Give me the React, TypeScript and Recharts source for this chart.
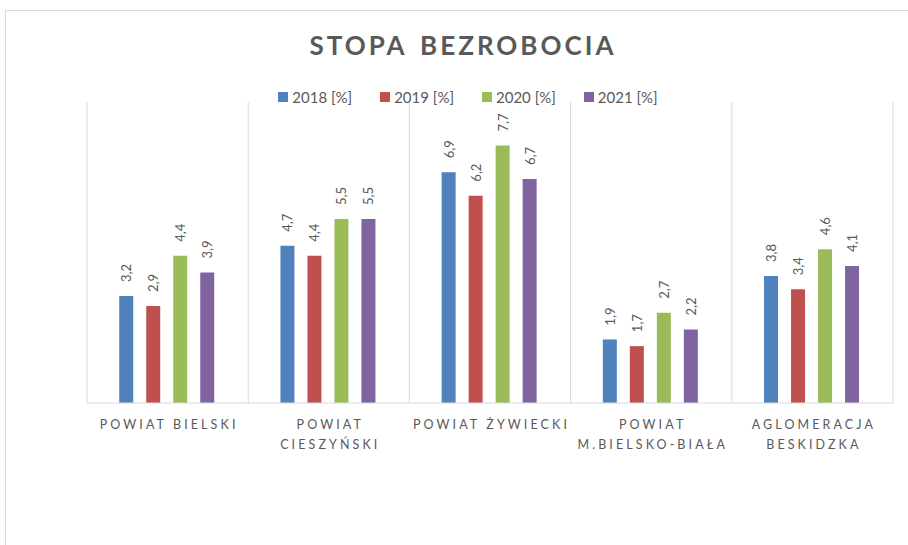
import { Bar, BarChart, CartesianGrid, LabelList, Legend, XAxis, YAxis } from "recharts";

const categories = [
  "POWIAT BIELSKI",
  "POWIAT\nCIESZYŃSKI",
  "POWIAT ŻYWIECKI",
  "POWIAT\nM.BIELSKO-BIAŁA",
  "AGLOMERACJA\nBESKIDZKA",
];
const years = ["2018 [%]", "2019 [%]", "2020 [%]", "2021 [%]"];
const values2018 = [3.2, 4.7, 6.9, 1.9, 3.8];
const values2019 = [2.9, 4.4, 6.2, 1.7, 3.4];
const values2020 = [4.4, 5.5, 7.7, 2.7, 4.6];
const values2021 = [3.9, 5.5, 6.7, 2.2, 4.1];

const COLORS = ["#4f81bd", "#c0504d", "#9bbb59", "#8064a2"];
const TEXT = "#595959";
const GRID = "#d9d9d9";
const FONT = "Lato, 'Open Sans', sans-serif";

const data = categories.map((name, i) => ({
  name,
  y2018: values2018[i],
  y2019: values2019[i],
  y2020: values2020[i],
  y2021: values2021[i],
}));
const keys = ["y2018", "y2019", "y2020", "y2021"];

function CategoryTick({ x, y, payload }: any) {
  const lines = String(payload.value).split("\n");
  return (
    <text
      x={x}
      y={y}
      textAnchor="middle"
      fill={TEXT}
      fontSize={12.5}
      fontFamily={FONT}
      style={{ letterSpacing: "3.1px" }}
    >
      {lines.map((line, i) => (
        <tspan key={i} x={x + 1.5} dy={i === 0 ? 18 : 20}>
          {line}
        </tspan>
      ))}
    </text>
  );
}

function ValueLabel({ x, y, width, value }: any) {
  const cx = x + width / 2;
  const ty = y - 14;
  return (
    <text
      x={cx}
      y={ty}
      transform={`rotate(-90 ${cx} ${ty})`}
      textAnchor="start"
      dominantBaseline="central"
      fill={TEXT}
      fontSize={13}
      fontFamily={FONT}
    >
      {String(value).replace(".", ",")}
    </text>
  );
}

function LegendContent() {
  return (
    <div style={{ display: "flex", justifyContent: "center", gap: 28, fontFamily: FONT, fontSize: 15, color: TEXT }}>
      {years.map((label, i) => (
        <div key={label} style={{ display: "flex", alignItems: "center", gap: 4 }}>
          <span style={{ width: 10, height: 10, background: COLORS[i], display: "inline-block" }} />
          <span>{label}</span>
        </div>
      ))}
    </div>
  );
}

export default function App() {
  return (
    <div style={{ position: "absolute", left: 0, top: 0, width: 908, height: 545, overflow: "hidden", background: "#fff" }}>
      <div
        style={{
          position: "absolute",
          left: 5,
          top: 10,
          width: 1200,
          height: 1200,
          border: `1px solid ${GRID}`,
        }}
      />
      <div
        style={{
          position: "absolute",
          left: 5,
          top: 29,
          width: 916,
          textAlign: "center",
          fontFamily: FONT,
          fontWeight: 700,
          fontSize: 26,
          letterSpacing: "3px",
          wordSpacing: "4px",
          color: TEXT,
        }}
      >
        STOPA BEZROBOCIA
      </div>
      <div style={{ position: "absolute", left: 0, top: 0 }}>
        <BarChart
          width={908}
          height={545}
          data={data}
          margin={{ top: 102, right: 15, bottom: 82, left: 87 }}
          barCategoryGap="20%"
          barGap={13}
        >
          <CartesianGrid
            horizontal={false}
            stroke={GRID}
            verticalCoordinatesGenerator={({ offset }: any) =>
              categories.map((_, i) => offset.left + (i * offset.width) / categories.length).concat(offset.left + offset.width)
            }
          />
          <XAxis
            dataKey="name"
            interval={0}
            height={60}
            tickLine={false}
            axisLine={{ stroke: GRID }}
            tick={<CategoryTick />}
          />
          <YAxis hide domain={[0, 9]} />
          <Legend
            verticalAlign="middle"
            align="center"
            content={<LegendContent />}
            wrapperStyle={{ top: 88, left: 0, width: 936 }}
          />
          {keys.map((k, i) => (
            <Bar key={k} dataKey={k} name={years[i]} fill={COLORS[i]} isAnimationActive={false}>
              <LabelList dataKey={k} content={<ValueLabel />} />
            </Bar>
          ))}
        </BarChart>
      </div>
    </div>
  );
}
